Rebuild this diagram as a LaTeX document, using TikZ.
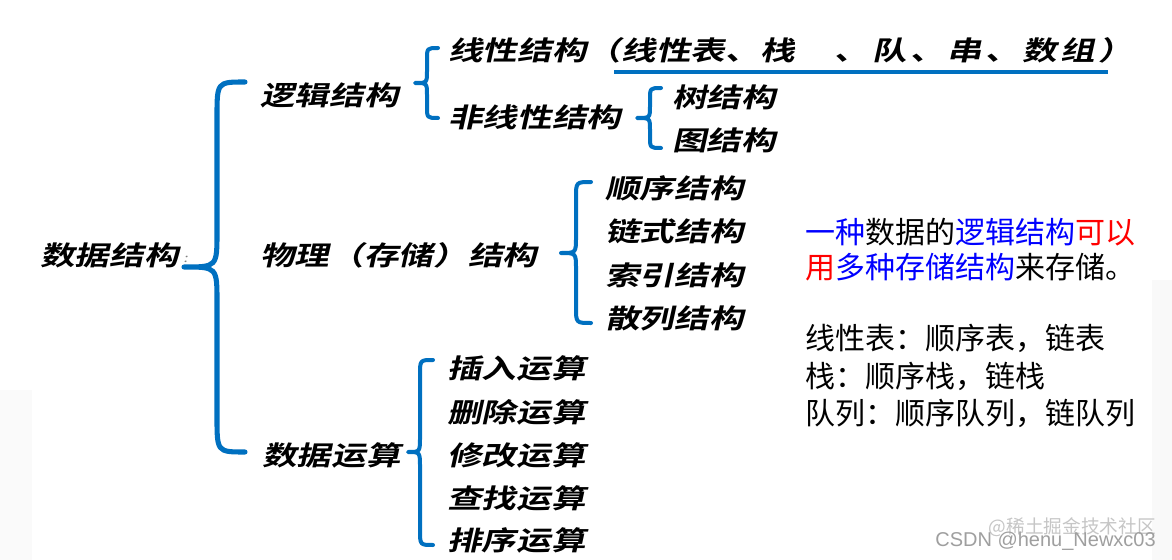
\documentclass[tikz,border=0pt]{standalone}
\usepackage{fontspec}
\newfontfamily\bi[FakeSlant=0.22,FakeStretch=1.3,BoldFont=* Bold]{Noto Sans CJK SC}
\newfontfamily\cjk{Noto Sans CJK SC}
\newfontfamily\wm{Liberation Sans}
\definecolor{braceblue}{RGB}{0,112,192}
\definecolor{tblue}{RGB}{0,0,255}
\definecolor{tred}{RGB}{255,0,0}
\newcommand\mybrace[8]{%
  \draw[#8] (#1,#2) .. controls (#3,#2) .. (#3,#2+#7) -- (#3,#5-#7)
    .. controls (#3,#5) .. (#4,#5) .. controls (#3,#5) .. (#3,#5+#7)
    -- (#3,#6-#7) .. controls (#3,#6) .. (#1,#6);}
\newcommand\gk{\kern.11em}
\begin{document}
\begin{tikzpicture}[x=0.75pt,y=-0.75pt,
  item/.style={anchor=west,inner sep=0pt,font=\bi\bfseries\fontsize{20}{24}\selectfont},
  note/.style={anchor=west,inner sep=0pt,font=\cjk\fontsize{22.5}{27}\selectfont},
  bigbracket/.style={draw=braceblue,line width=3.8pt,line cap=round,line join=round},
  bracket/.style={draw=braceblue,line width=3pt,line cap=round,line join=round},
  uline/.style={draw=braceblue,line width=3pt},
]
\useasboundingbox (0,0) rectangle (1172,560);
\fill[white] (0,0) rectangle (1172,560);
% faint slide background at the edges
\fill[gray!4] (0,390) rectangle (32,560);
\fill[gray!5] (1152,280) rectangle (1172,560);

% level 0
\node[item] (ds) at (40,255) {数据结构};
\node[anchor=west,inner sep=0pt,font=\bi\fontsize{9}{11}\selectfont,text=gray] (colon) at ([xshift=3pt,yshift=-3pt]ds.east) {:};

% level 1
\node[item] (lj) at (260,95) {逻辑结构};
\node[item] (wl) at (260,255) {物理（存储）结构};
\node[item] (ys) at (262,455) {数据运算};

% logical structure
\node[item] (xx) at (448,50) {线性结构（线性表、栈\hspace{1.5em}、\gk 队\gk 、\gk 串\gk 、\gk 数\gk 组\gk ）};
\node[item] (fx) at (448,117) {非线性结构};
\node[item] (tree) at (672,97) {树结构};
\node[item] (graph) at (672,140) {图结构};

% storage structures
\node[item] (s1) at (605,188) {顺序结构};
\node[item] (s2) at (605,231) {链式结构};
\node[item] (s3) at (605,275) {索引结构};
\node[item] (s4) at (605,318) {散列结构};

% operations
\node[item] (o1) at (447,368) {插入运算};
\node[item] (o2) at (447,412) {删除运算};
\node[item] (o3) at (447,455) {修改运算};
\node[item] (o4) at (447,498) {查找运算};
\node[item] (o5) at (447,540) {排序运算};

% underline
\draw[uline] (614,72) -- (1108,72);

% braces
\mybrace{245}{82}{217}{184}{267}{452}{35}{bigbracket}
\mybrace{438}{48}{427}{415}{83}{118}{12}{bracket}
\mybrace{661}{88}{650}{637}{118}{148}{12}{bracket}
\mybrace{591}{182}{576}{561}{253}{323}{16}{bracket}
\mybrace{433}{360}{420}{408}{452}{545}{15}{bracket}

% notes
\node[note] (n1) at (805,232) {\textcolor{tblue}{一种}数据的\textcolor{tblue}{逻辑结构}\textcolor{tred}{可以}};
\node[note] (n2) at (805,267) {\textcolor{tred}{用}\textcolor{tblue}{多种存储结构}来存储。};
\node[note] (n3) at (805,338) {线性表：顺序表，链表};
\node[note] (n4) at (805,376) {栈：顺序栈，链栈};
\node[note] (n5) at (805,413) {队列：顺序队列，链队列};

% watermarks
\node[anchor=east,inner sep=0pt,font=\cjk\fontsize{14}{16}\selectfont,text=gray!45] (wm2) at (1156,527) {@稀土掘金技术社区};
\node[anchor=east,inner sep=0pt,font=\wm\fontsize{15}{18}\selectfont,text=gray!75] (wm1) at (1156,541) {CSDN @henu\_Newxc03};
\end{tikzpicture}
\end{document}
